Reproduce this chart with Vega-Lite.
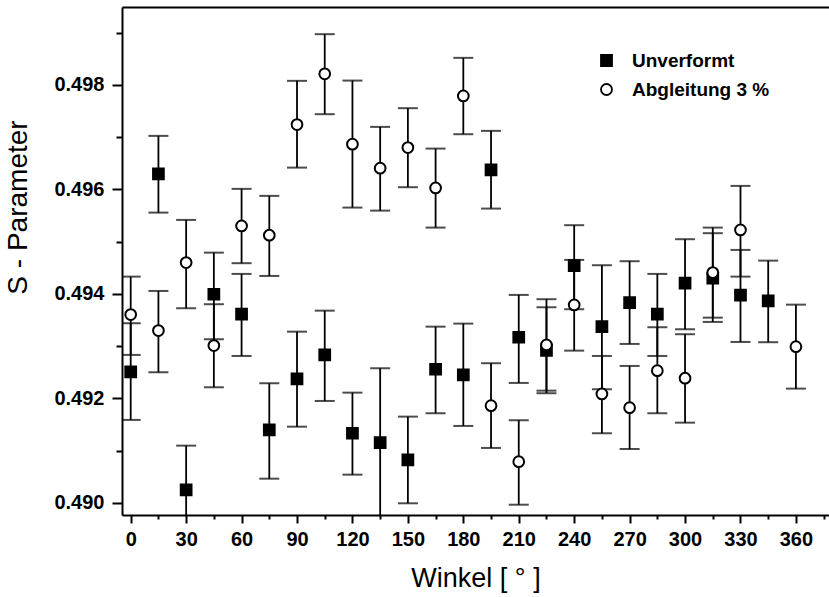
{
  "$schema": "https://vega.github.io/schema/vega-lite/v6.json",
  "width": 707,
  "height": 508,
  "autosize": "none",
  "padding": {"left": 122, "top": 7, "right": 0, "bottom": 82},
  "background": "white",
  "config": {
    "view": {"stroke": null},
    "font": "Liberation Sans",
    "axis": {
      "grid": false,
      "domainColor": "black",
      "domainWidth": 2,
      "tickColor": "black",
      "tickWidth": 2,
      "labelColor": "black",
      "labelFontSize": 20,
      "labelFontWeight": "bold",
      "labelFlush": false,
      "labelOverlap": false,
      "titleColor": "black",
      "titleFontWeight": "normal"
    },
    "legend": {
      "orient": "none",
      "legendX": 475,
      "legendY": 44,
      "padding": 0,
      "labelFontSize": 19,
      "labelFontWeight": "bold",
      "labelColor": "black",
      "labelOffset": 16,
      "rowPadding": 9,
      "symbolSize": 121,
      "symbolStrokeWidth": 1.8
    }
  },
  "data": {
    "values": [
      {"angle": 0, "series": "Unverformt", "value": 0.492507, "lo": 0.491589, "hi": 0.493439},
      {"angle": 15, "series": "Unverformt", "value": 0.496297, "lo": 0.495556, "hi": 0.497024},
      {"angle": 30, "series": "Unverformt", "value": 0.490249, "lo": 0.489407, "hi": 0.491097},
      {"angle": 45, "series": "Unverformt", "value": 0.493994, "lo": 0.493133, "hi": 0.49479},
      {"angle": 60, "series": "Unverformt", "value": 0.493612, "lo": 0.492813, "hi": 0.494383},
      {"angle": 75, "series": "Unverformt", "value": 0.491397, "lo": 0.490465, "hi": 0.492291},
      {"angle": 90, "series": "Unverformt", "value": 0.492373, "lo": 0.49146, "hi": 0.493278},
      {"angle": 105, "series": "Unverformt", "value": 0.492833, "lo": 0.491952, "hi": 0.49368},
      {"angle": 120, "series": "Unverformt", "value": 0.491334, "lo": 0.490542, "hi": 0.492111},
      {"angle": 135, "series": "Unverformt", "value": 0.491154, "lo": 0.48973, "hi": 0.492578},
      {"angle": 150, "series": "Unverformt", "value": 0.490823, "lo": 0.489994, "hi": 0.491652},
      {"angle": 165, "series": "Unverformt", "value": 0.492559, "lo": 0.491717, "hi": 0.493374},
      {"angle": 180, "series": "Unverformt", "value": 0.49245, "lo": 0.491474, "hi": 0.493432},
      {"angle": 195, "series": "Unverformt", "value": 0.496373, "lo": 0.495633, "hi": 0.49712},
      {"angle": 210, "series": "Unverformt", "value": 0.493171, "lo": 0.492297, "hi": 0.493981},
      {"angle": 225, "series": "Unverformt", "value": 0.492919, "lo": 0.4921, "hi": 0.493745},
      {"angle": 240, "series": "Unverformt", "value": 0.494542, "lo": 0.493707, "hi": 0.495315},
      {"angle": 255, "series": "Unverformt", "value": 0.493374, "lo": 0.492176, "hi": 0.494549},
      {"angle": 270, "series": "Unverformt", "value": 0.493834, "lo": 0.493043, "hi": 0.494626},
      {"angle": 285, "series": "Unverformt", "value": 0.493612, "lo": 0.492813, "hi": 0.494383},
      {"angle": 300, "series": "Unverformt", "value": 0.494205, "lo": 0.493324, "hi": 0.495047},
      {"angle": 315, "series": "Unverformt", "value": 0.4943, "lo": 0.493464, "hi": 0.495162},
      {"angle": 330, "series": "Unverformt", "value": 0.493975, "lo": 0.493081, "hi": 0.494842},
      {"angle": 345, "series": "Unverformt", "value": 0.493866, "lo": 0.493076, "hi": 0.494637},
      {"angle": 0, "series": "Abgleitung 3 %", "value": 0.493604, "lo": 0.492833, "hi": 0.494331},
      {"angle": 15, "series": "Abgleitung 3 %", "value": 0.493298, "lo": 0.492501, "hi": 0.494057},
      {"angle": 30, "series": "Abgleitung 3 %", "value": 0.494599, "lo": 0.493726, "hi": 0.495416},
      {"angle": 45, "series": "Abgleitung 3 %", "value": 0.493011, "lo": 0.492214, "hi": 0.493803},
      {"angle": 60, "series": "Abgleitung 3 %", "value": 0.495301, "lo": 0.494588, "hi": 0.49601},
      {"angle": 75, "series": "Abgleitung 3 %", "value": 0.495123, "lo": 0.494344, "hi": 0.495876},
      {"angle": 90, "series": "Abgleitung 3 %", "value": 0.49724, "lo": 0.496417, "hi": 0.498077},
      {"angle": 105, "series": "Abgleitung 3 %", "value": 0.498211, "lo": 0.497439, "hi": 0.49897},
      {"angle": 120, "series": "Abgleitung 3 %", "value": 0.496865, "lo": 0.495652, "hi": 0.498082},
      {"angle": 135, "series": "Abgleitung 3 %", "value": 0.496406, "lo": 0.495594, "hi": 0.497196},
      {"angle": 150, "series": "Abgleitung 3 %", "value": 0.4968, "lo": 0.496042, "hi": 0.497554},
      {"angle": 165, "series": "Abgleitung 3 %", "value": 0.496029, "lo": 0.495269, "hi": 0.496781},
      {"angle": 180, "series": "Abgleitung 3 %", "value": 0.497789, "lo": 0.497056, "hi": 0.498517},
      {"angle": 195, "series": "Abgleitung 3 %", "value": 0.491862, "lo": 0.491053, "hi": 0.492674},
      {"angle": 210, "series": "Abgleitung 3 %", "value": 0.49079, "lo": 0.489967, "hi": 0.491583},
      {"angle": 225, "series": "Abgleitung 3 %", "value": 0.493024, "lo": 0.492149, "hi": 0.493899},
      {"angle": 240, "series": "Abgleitung 3 %", "value": 0.493789, "lo": 0.492915, "hi": 0.494651},
      {"angle": 255, "series": "Abgleitung 3 %", "value": 0.492086, "lo": 0.491334, "hi": 0.492813},
      {"angle": 270, "series": "Abgleitung 3 %", "value": 0.491824, "lo": 0.491033, "hi": 0.492622},
      {"angle": 285, "series": "Abgleitung 3 %", "value": 0.492532, "lo": 0.491717, "hi": 0.493363},
      {"angle": 300, "series": "Abgleitung 3 %", "value": 0.492387, "lo": 0.491537, "hi": 0.493229},
      {"angle": 315, "series": "Abgleitung 3 %", "value": 0.494408, "lo": 0.493546, "hi": 0.495269},
      {"angle": 330, "series": "Abgleitung 3 %", "value": 0.495225, "lo": 0.494331, "hi": 0.496067},
      {"angle": 360, "series": "Abgleitung 3 %", "value": 0.492991, "lo": 0.492188, "hi": 0.493795}
    ]
  },
  "layer": [
    {
      "mark": {"type": "rule", "clip": true, "color": "black", "strokeWidth": 1.8},
      "encoding": {
        "x": {
          "field": "angle", "type": "quantitative",
          "scale": {"domain": [-4.71, 377.9], "nice": false, "zero": false},
          "axis": {
            "orient": "bottom",
            "title": "Winkel [ ° ]",
            "titleFontSize": 27,
            "titlePadding": 16,
            "values": [0, 15, 30, 45, 60, 75, 90, 105, 120, 135, 150, 165, 180, 195, 210, 225, 240, 255, 270, 285, 300, 315, 330, 345, 360, 375],
            "labelExpr": "datum.value % 30 === 0 ? datum.label : ''",
            "format": "d",
            "tickSize": {"condition": {"test": "datum.value % 30 === 0", "value": 8}, "value": 4},
            "labelPadding": 6
          }
        },
        "y": {
          "field": "lo", "type": "quantitative",
          "scale": {"domain": [0.48977, 0.49949], "nice": false, "zero": false},
          "axis": {
            "title": "S - Parameter",
            "titleFontSize": 28,
            "titlePadding": 21,
            "titleY": 200,
            "values": [0.49, 0.491, 0.492, 0.493, 0.494, 0.495, 0.496, 0.497, 0.498, 0.499],
            "labelExpr": "round(datum.value * 1000) % 2 === 0 ? format(datum.value, '.3f') : ''",
            "tickSize": {"condition": {"test": "round(datum.value * 1000) % 2 === 0", "value": 10}, "value": 6},
            "labelPadding": 8
          }
        },
        "y2": {"field": "hi"}
      }
    },
    {
      "mark": {"type": "tick", "clip": true, "orient": "horizontal", "color": "black", "size": 20, "thickness": 2},
      "encoding": {
        "x": {
          "field": "angle", "type": "quantitative",
          "axis": {"orient": "top", "title": null, "labels": false, "ticks": false, "domain": true}
        },
        "y": {"field": "lo", "type": "quantitative", "title": "S - Parameter"}
      }
    },
    {
      "mark": {"type": "tick", "clip": true, "orient": "horizontal", "color": "black", "size": 20, "thickness": 2},
      "encoding": {
        "x": {"field": "angle", "type": "quantitative", "axis": null},
        "y": {"field": "hi", "type": "quantitative", "title": "S - Parameter"}
      }
    },
    {
      "mark": {"type": "point", "strokeWidth": 2, "opacity": 1, "fillOpacity": 1, "strokeOpacity": 1, "size": 115},
      "encoding": {
        "x": {"field": "angle", "type": "quantitative", "axis": null},
        "y": {"field": "value", "type": "quantitative", "title": "S - Parameter"},
        "shape": {
          "field": "series", "type": "nominal",
          "scale": {"domain": ["Unverformt", "Abgleitung 3 %"], "range": ["square", "circle"]},
          "legend": {"title": null}
        },
        "fill": {
          "field": "series", "type": "nominal",
          "scale": {"domain": ["Unverformt", "Abgleitung 3 %"], "range": ["black", "white"]},
          "legend": {"title": null}
        },
        "stroke": {
          "field": "series", "type": "nominal",
          "scale": {"domain": ["Unverformt", "Abgleitung 3 %"], "range": ["black", "black"]},
          "legend": {"title": null}
        }
      }
    }
  ],
  "resolve": {"axis": {"x": "independent"}}
}
